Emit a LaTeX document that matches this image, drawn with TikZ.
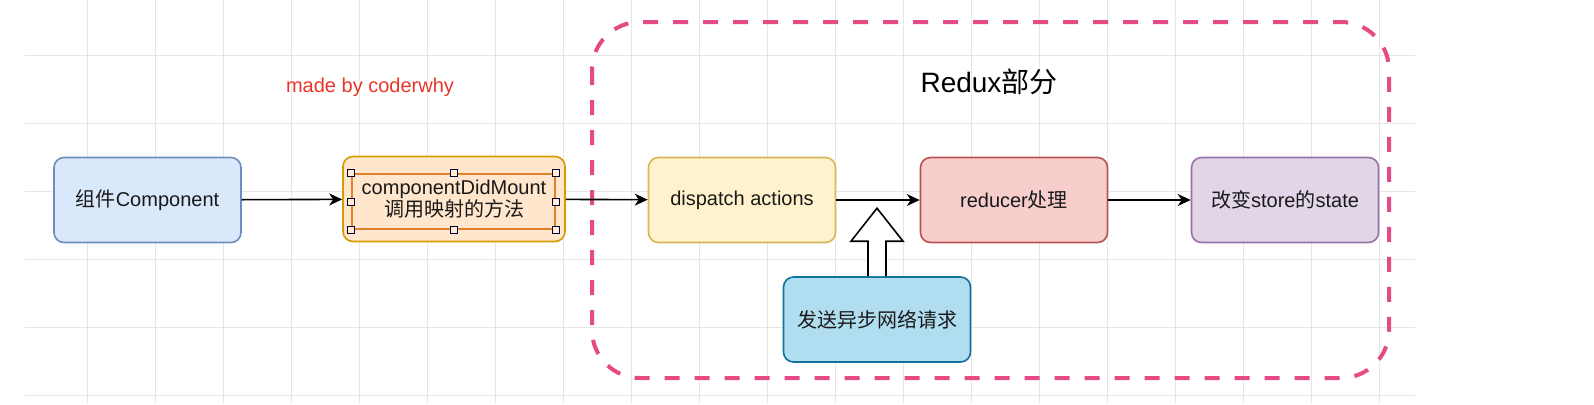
\documentclass[tikz,border=0pt]{standalone}
\usepackage{fontspec}
\setmainfont{Liberation Sans}
\newfontfamily\zhfont{Noto Sans CJK SC}
\newcommand{\zh}[1]{{\zhfont #1}}
\usetikzlibrary{arrows.meta,calc}
\definecolor{gridgray}{HTML}{E6E6E6}
\definecolor{bluefill}{HTML}{DAE8FC}\definecolor{blueline}{HTML}{6C8EBF}
\definecolor{orangefill}{HTML}{FFE6CC}\definecolor{orangeline}{HTML}{D79B00}
\definecolor{yellowfill}{HTML}{FFF2CC}\definecolor{yellowline}{HTML}{D6B656}
\definecolor{redfill}{HTML}{F8CECC}\definecolor{redline}{HTML}{B85450}
\definecolor{purplefill}{HTML}{E1D5E7}\definecolor{purpleline}{HTML}{9673A6}
\definecolor{cyanfill}{HTML}{B1DDF0}\definecolor{cyanline}{HTML}{10739E}
\definecolor{zonepink}{HTML}{E64A85}
\definecolor{signred}{HTML}{E8362A}
\definecolor{selorange}{HTML}{E0822A}
\begin{document}
\begin{tikzpicture}[x=0.5pt,y=-0.5pt,
  box/.style={draw, rounded corners=5pt, line width=0.8pt, minimum width=93.5pt,
    minimum height=42.5pt, inner sep=0pt, align=center, text=black!90,
    font=\fontsize{10}{11}\selectfont},
  flow/.style={-{Stealth[length=6.5pt,width=6pt,inset=2pt]}, line width=0.8pt},
  gridline/.style={gridgray, line width=0.5pt},
  handle/.style={draw=black!80!blue, fill=orange!15, line width=0.5pt}]
\fill[white] (0,0) rectangle (1594,404);
\useasboundingbox (0,0) rectangle (1594,404);
% grid
\foreach \gx in {0,...,19} \draw[gridline] (87+68*\gx,0) -- (87+68*\gx,404);
\foreach \gy in {0,...,5} \draw[gridline] (25,55+68*\gy) -- (1415,55+68*\gy);
% redux part
\draw[zonepink, line width=2pt, dash pattern=on 7.5pt off 7.5pt, rounded corners=24pt]
  (592,22) rectangle (1389,378);
\node (title) at (989,82) {\fontsize{14}{16}\selectfont Redux\zh{部分}};
\node[text=signred] (sign) at (370,87) {\fontsize{10}{12}\selectfont made by coderwhy};
% boxes
\node[box, fill=bluefill, draw=blueline] (comp) at (147.5,200) {\zh{组件}Component};
\node[box, fill=orangefill, draw=orangeline, minimum width=111pt] (mount) at (454,199)
  {componentDidMount\\\zh{调用映射的方法}};
\node[box, fill=yellowfill, draw=yellowline] (dispatch) at (742,200) {dispatch actions};
\node[box, fill=redfill, draw=redline] (reducer) at (1014,200) {reducer\zh{处理}};
\node[box, fill=purplefill, draw=purpleline] (store) at (1285,200) {\zh{改变}store\zh{的}state};
\node[box, fill=cyanfill, draw=cyanline] (req) at (877,319.5) {\zh{发送异步网络请求}};
% selection
\node[draw=selorange, line width=0.9pt, minimum width=101.5pt, minimum height=27.5pt,
  inner sep=0pt] (sel) at (453.5,201.5) {};
\foreach \a in {north west,north,north east,east,south east,south,south west,west}
  \draw[handle] (sel.\a) +(-3.5,-3.5) rectangle +(3.5,3.5);
% arrows
\draw[flow] (comp) -- (mount);
\draw[flow] (mount) -- (dispatch);
\draw[flow] (dispatch) -- (reducer);
\draw[flow] (reducer) -- (store);
\draw[fill=white, line width=0.8pt] ($(req.north)+(-9,0)$) -- ++(0,-35) -- ++(-17,0)
  -- ($(req.north)+(0,-68)$) -- ($(req.north)+(26,-35)$) -- ++(-17,0) -- ($(req.north)+(9,0)$);
\end{tikzpicture}
\end{document}
